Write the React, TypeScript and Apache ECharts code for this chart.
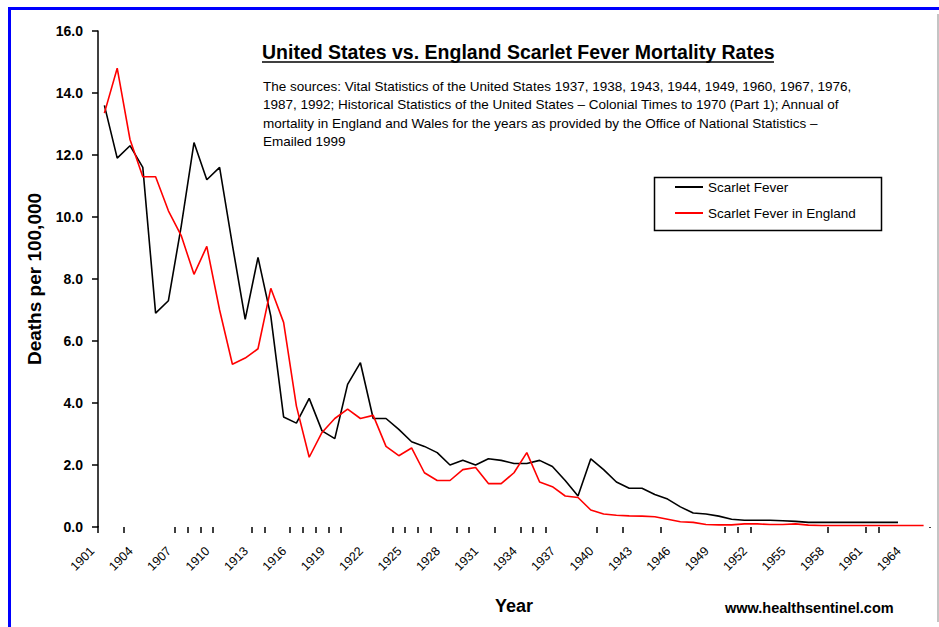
import React, { useEffect, useRef } from "react";
import * as echarts from "echarts";

const years = [
  "1901","1902","1903","1904","1905","1906","1907","1908","1909","1910",
  "1911","1912","1913","1914","1915","1916","1917","1918","1919","1920",
  "1921","1922","1923","1924","1925","1926","1927","1928","1929","1930",
  "1931","1932","1933","1934","1935","1936","1937","1938","1939","1940",
  "1941","1942","1943","1944","1945","1946","1947","1948","1949","1950",
  "1951","1952","1953","1954","1955","1956","1957","1958","1959","1960",
  "1961","1962","1963","1964","1965",
];

const usScarletFever = [
  13.6, 11.9, 12.3, 11.6, 6.9, 7.3, 9.7, 12.4, 11.2, 11.6,
  9.1, 6.7, 8.7, 6.8, 3.55, 3.35, 4.15, 3.1, 2.85, 4.6,
  5.3, 3.5, 3.5, 3.15, 2.75, 2.6, 2.4, 2.0, 2.15, 2.0,
  2.2, 2.15, 2.05, 2.05, 2.15, 1.95, 1.5, 1.0, 2.2, 1.85,
  1.45, 1.25, 1.25, 1.05, 0.9, 0.65, 0.45, 0.42, 0.35, 0.25,
  0.22, 0.22, 0.22, 0.2, 0.18, 0.15, 0.15, 0.15, 0.15, 0.15,
  0.15, 0.15, 0.15, null, null,
];

const englandScarletFever = [
  13.35, 14.8, 12.5, 11.3, 11.3, 10.2, 9.4, 8.15, 9.05, 7.0,
  5.25, 5.45, 5.75, 7.7, 6.6, 3.9, 2.25, 3.05, 3.5, 3.8,
  3.5, 3.6, 2.6, 2.3, 2.55, 1.75, 1.5, 1.5, 1.85, 1.92,
  1.4, 1.4, 1.75, 2.4, 1.45, 1.3, 1.0, 0.95, 0.55, 0.42,
  0.38, 0.36, 0.35, 0.33, 0.25, 0.17, 0.15, 0.08, 0.07, 0.07,
  0.1, 0.1, 0.08, 0.08, 0.1, 0.06, 0.05, 0.05, 0.05, 0.05,
  0.05, 0.05, 0.05, 0.05, 0.05,
];

const seriesNames = ["Scarlet Fever", "Scarlet Fever in England"];
const titleText = "United States vs. England Scarlet Fever Mortality Rates";
const noteLines = [
  "The sources: Vital Statistics of the United States 1937, 1938, 1943, 1944, 1949, 1960, 1967, 1976,",
  "1987, 1992; Historical Statistics of the United States \u2013 Colonial Times to 1970 (Part 1); Annual of",
  "mortality in England and Wales for the years as provided by the Office of National Statistics \u2013",
  "Emailed 1999",
];
const visibleTickIndices = [
  2, 6, 7, 8, 9, 12, 13, 15, 16, 17, 18, 19, 23, 24, 25, 26, 28, 29, 31, 33,
  34, 35, 39, 41, 44, 49, 50, 51, 57, 60, 61,
];

const FONT = "Arial, 'Liberation Sans', Helvetica, sans-serif";

export default function App() {
  const ref = useRef<HTMLDivElement | null>(null);

  useEffect(() => {
    document.body.style.margin = "0";
    if (!ref.current) return;
    const chart = echarts.init(ref.current, null, { renderer: "svg" });
    const tickSet = new Set(visibleTickIndices);

    const option: any = {
      animation: false,
      backgroundColor: "#ffffff",
      textStyle: { fontFamily: FONT },
      grid: { left: 98, right: 9, top: 31, bottom: 100, containLabel: false },
      legend: {
        show: true,
        orient: "vertical",
        left: 675,
        top: 180,
        itemWidth: 28,
        itemHeight: 2,
        itemGap: 12,
        icon: "rect",
        padding: 0,
        textStyle: { fontSize: 13.5, color: "#000", fontFamily: FONT },
        data: seriesNames,
      },
      xAxis: {
        type: "category",
        data: years,
        boundaryGap: true,
        axisLine: { show: false },
        axisTick: {
          show: true,
          length: 6,
          interval: (idx: number) => tickSet.has(idx),
          lineStyle: { color: "#000", width: 1.5 },
        },
        axisLabel: {
          interval: 2,
          rotate: 45,
          fontSize: 12.5,
          color: "#000",
          margin: 10,
          padding: [0, 17, 0, 0],
          fontFamily: FONT,
        },
        splitLine: { show: false },
        name: "Year",
        nameLocation: "middle",
        nameGap: 70,
        nameTextStyle: { fontSize: 18, fontWeight: "bold", color: "#000", fontFamily: FONT },
      },
      yAxis: {
        type: "value",
        min: 0,
        max: 16,
        interval: 2,
        axisLine: { show: true, lineStyle: { color: "#000", width: 1.5 } },
        axisTick: { show: true, inside: false, length: 6, lineStyle: { color: "#000", width: 1.5 } },
        axisLabel: {
          formatter: (v: number) => v.toFixed(1),
          fontSize: 14,
          fontWeight: "bold",
          color: "#000",
          margin: 15,
          fontFamily: FONT,
        },
        splitLine: { show: false },
        name: "Deaths per 100,000",
        nameLocation: "middle",
        nameGap: 54,
        nameRotate: 90,
        nameTextStyle: { fontSize: 19, fontWeight: "bold", color: "#000", fontFamily: FONT },
      },
      series: [
        {
          name: seriesNames[0],
          type: "line",
          data: usScarletFever,
          symbol: "none",
          connectNulls: false,
          lineStyle: { color: "#000000", width: 1.6 },
          itemStyle: { color: "#000000" },
        },
        {
          name: seriesNames[1],
          type: "line",
          data: englandScarletFever,
          symbol: "none",
          lineStyle: { color: "#ff0000", width: 1.6 },
          itemStyle: { color: "#ff0000" },
        },
      ],
      graphic: [
        {
          type: "rect",
          shape: { x: 9.5, y: 8.5, width: 1000, height: 700 },
          style: { fill: "none", stroke: "#0000ff", lineWidth: 3 },
          silent: true,
        },
        {
          type: "rect",
          shape: { x: 926, y: 528, width: 8, height: 10 },
          style: { fill: "#ffffff" },
          silent: true,
          z: 5,
        },
        {
          type: "line",
          shape: { x1: 938, y1: 14, x2: 938, y2: 622 },
          style: { stroke: "#b0b0b0", lineWidth: 1.5 },
          silent: true,
          z: 6,
        },
        {
          type: "line",
          shape: { x1: 98, y1: 526, x2: 98, y2: 533 },
          style: { stroke: "#000", lineWidth: 1.5 },
          silent: true,
        },
        {
          type: "text",
          left: 262,
          top: 42,
          style: {
            text: titleText,
            fontSize: 19.5,
            fontWeight: "bold",
            fill: "#000",
            fontFamily: FONT,
          },
        },
        {
          type: "line",
          shape: { x1: 262, y1: 62, x2: 774, y2: 62 },
          style: { stroke: "#000", lineWidth: 1.5 },
          silent: true,
        },
        ...noteLines.map((t, i) => ({
          type: "text",
          left: 263,
          top: 79 + i * 18.5,
          style: { text: t, fontSize: 13.5, fill: "#000", fontFamily: FONT },
        })),
        {
          type: "rect",
          shape: { x: 654.5, y: 177.5, width: 227, height: 53 },
          style: { fill: "none", stroke: "#000", lineWidth: 1.5 },
          silent: true,
          z: 10,
        },
        {
          type: "text",
          left: 725,
          top: 600,
          style: {
            text: "www.healthsentinel.com",
            fontSize: 14.5,
            fontWeight: "bold",
            fill: "#000",
            fontFamily: FONT,
          },
        },
      ],
    };

    chart.setOption(option);
    return () => chart.dispose();
  }, []);

  return (
    <div
      ref={ref}
      style={{ position: "fixed", left: 0, top: 0, width: 939, height: 627, background: "#fff" }}
    />
  );
}
